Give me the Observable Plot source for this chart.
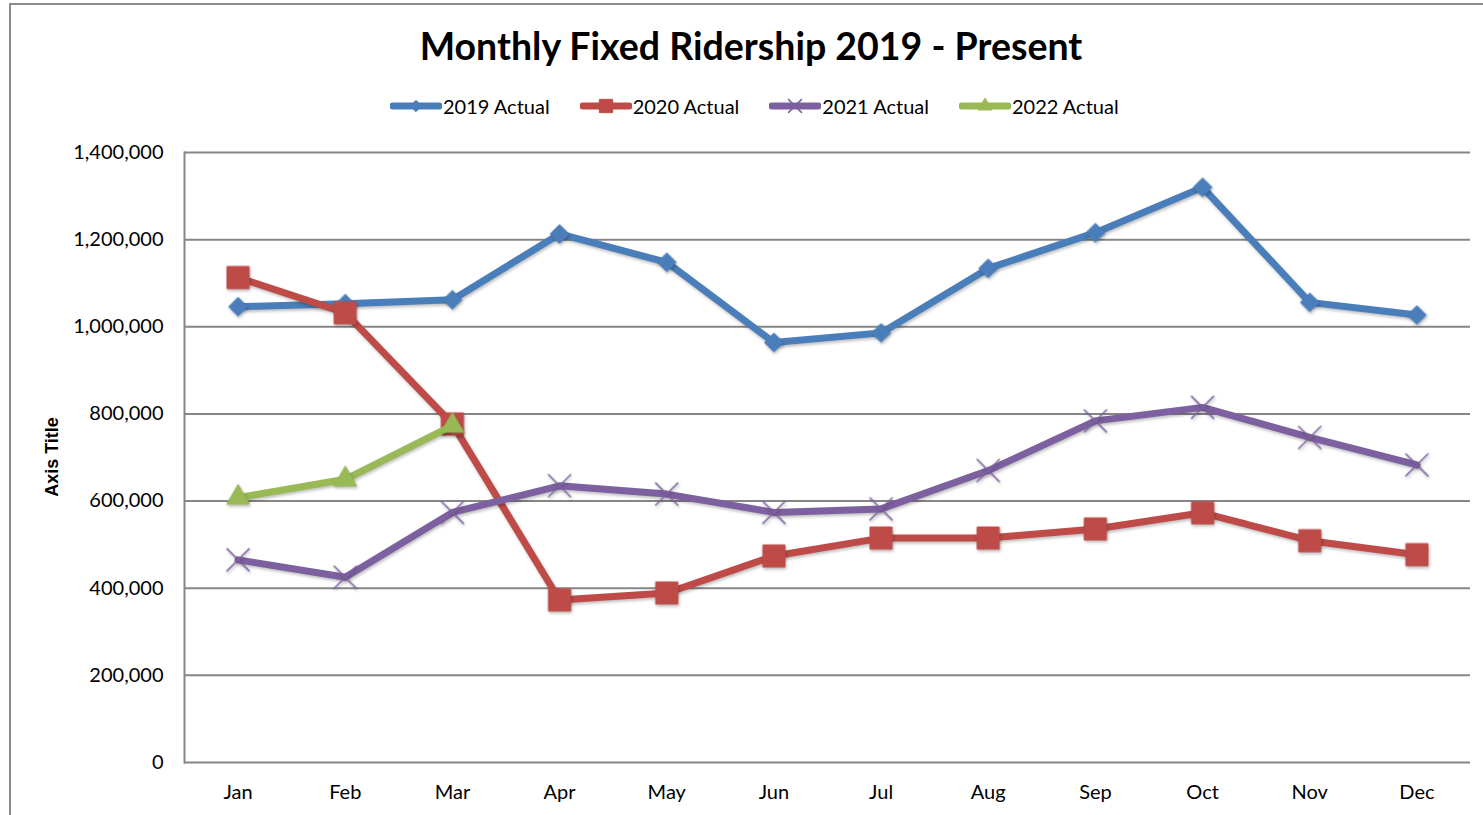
<!DOCTYPE html>
<html><head><meta charset="utf-8">
<script src="https://cdn.jsdelivr.net/npm/d3@7"></script>
<script src="https://cdn.jsdelivr.net/npm/@observablehq/plot@0.6"></script>
<style>
body{margin:0;background:#fff;font-family:Lato,"Open Sans",sans-serif;overflow:hidden;width:1483px;height:815px;position:relative}
#frame{position:absolute;left:9px;top:3px;width:1500px;height:840px;border:2px solid #8c8c8c;box-sizing:border-box}
#title{position:absolute;left:0;width:1502px;top:24px;text-align:center;font-weight:bold;font-size:37.5px;line-height:44px;color:#000}
#legend{position:absolute;left:390px;top:94px;display:flex;align-items:center;font-size:20px;color:#000;line-height:24px}
#legend .item{display:flex;align-items:center;margin-right:30px}
#legend svg{display:block;margin-right:1px}
#ytitle{position:absolute;left:52px;top:457px;transform:translate(-50%,-50%) rotate(-90deg);font-family:"Liberation Sans",Arial,sans-serif;font-weight:bold;font-size:18px;white-space:nowrap}
#chart{position:absolute;left:0;top:130px}
#chart g[aria-label="line"], #chart g[aria-label="dot"]{filter:drop-shadow(1.5px 2px 1.5px rgba(0,0,0,0.25))}
</style></head>
<body>
<div id="frame"></div>
<div id="title">Monthly Fixed Ridership 2019 - Present</div>
<div id="legend"></div>
<div id="ytitle">Axis Title</div>
<div id="chart"></div>
<script>
const months = ["Jan","Feb","Mar","Apr","May","Jun","Jul","Aug","Sep","Oct","Nov","Dec"];
const seriesNames = ["2019 Actual","2020 Actual","2021 Actual","2022 Actual"];
const actual2019 = [1046000,1053000,1062000,1213000,1148000,964000,986000,1134000,1216000,1320000,1056000,1027000];
const actual2020 = [1113000,1032000,777000,373000,389000,474000,515000,515000,536000,573000,509000,477000];
const actual2021 = [465000,425000,574000,635000,616000,574000,582000,670000,784000,815000,746000,683000];
const actual2022 = [608000,650000,773000];
const yTicks = [0,200000,400000,600000,800000,1000000,1200000,1400000];

const colors = ["#4a7ebb","#be4b48","#7d60a0","#98b954"];
const symbols = ["diamond2","square","times","triangle"];
const radii = [8.5,12.5,10.5,8.5];
const allSeries = [actual2019, actual2020, actual2021, actual2022];

const rows = allSeries.map((arr, s) => arr.map((v, i) => ({month: months[i], value: v, series: seriesNames[s]})));

const marks = [
  Plot.gridY(yTicks, {stroke:"#868686", strokeOpacity:1, strokeWidth:2}),
  Plot.axisY(yTicks, {tickSize:0, tickPadding:21, tickFormat:d3.format(","), label:null, fontSize:20}),
  Plot.axisX({tickSize:0, tickPadding:22, label:null, fontSize:20}),
  Plot.frame({anchor:"left", stroke:"#868686", strokeWidth:2})
];
rows.forEach((data, s) => {
  marks.push(Plot.line(data, {x:"month", y:"value", stroke:colors[s], strokeWidth:7, strokeLinejoin:"round"}));
  const isStroke = symbols[s] === "times";
  marks.push(Plot.dot(data, {x:"month", y:"value", symbol:symbols[s], r:radii[s],
    fill: isStroke ? "none" : colors[s], stroke: colors[s], strokeWidth: isStroke ? 1.5 : 1}));
});

const chart = Plot.plot({
  width:1483, height:685,
  marginLeft:184, marginRight:13, marginTop:22, marginBottom:53,
  style:{fontFamily:"Lato, sans-serif", fontSize:"20px", color:"#000", background:"transparent", overflow:"visible"},
  x:{type:"point", domain:months, padding:0.5, round:false, label:null},
  y:{domain:[0,1400000], label:null},
  marks
});
document.getElementById("chart").appendChild(chart);

// legend
const legend = d3.select("#legend");
seriesNames.forEach((name, s) => {
  const item = legend.append("div").attr("class","item");
  const svg = item.append("svg").attr("width",52).attr("height",20);
  svg.append("line").attr("x1",3).attr("x2",49).attr("y1",10).attr("y2",10)
    .attr("stroke",colors[s]).attr("stroke-width",7).attr("stroke-linecap","round");
  const sym = {diamond2:d3.symbolDiamond2, square:d3.symbolSquare, times:d3.symbolTimes, triangle:d3.symbolTriangle}[symbols[s]];
  const isStroke = symbols[s] === "times";
  svg.append("path").attr("transform","translate(26,10)")
    .attr("d", d3.symbol(sym, Math.PI * Math.pow(radii[s]*0.6,2))())
    .attr("fill", isStroke ? "none" : colors[s]).attr("stroke", colors[s]).attr("stroke-width", isStroke?1.5:1);
  item.append("span").text(name);
});
</script>
</body></html>
